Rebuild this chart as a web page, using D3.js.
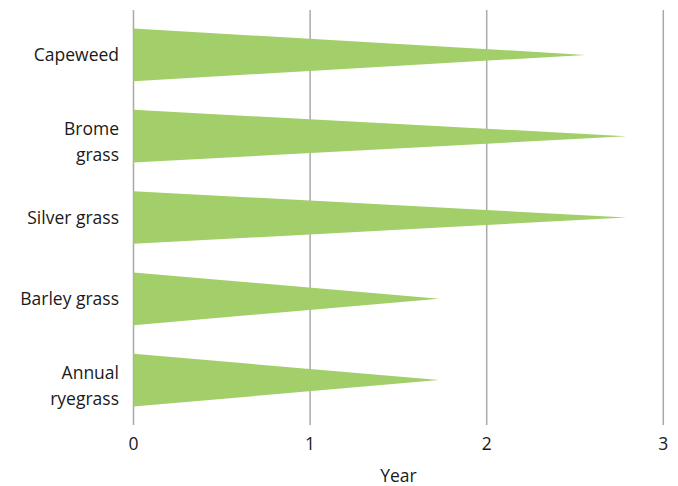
<!DOCTYPE html>
<html>
<head>
<meta charset="utf-8">
<script src="https://cdn.jsdelivr.net/npm/d3@7"></script>
<style>
  body { margin: 0; background: #fff; }
  svg text { font-family: "Open Sans", sans-serif; fill: #1a1a1a; }
</style>
</head>
<body>
<div id="chart"></div>
<script>
const categories = ['Capeweed', 'Brome grass', 'Silver grass', 'Barley grass', 'Annual ryegrass'];
const labelLines = [['Capeweed'], ['Brome', 'grass'], ['Silver grass'], ['Barley grass'], ['Annual', 'ryegrass']];
const years = [2.56, 2.79, 2.79, 1.73, 1.73];
const xTicks = [0, 1, 2, 3];

const width = 678, height = 486;
const margin = {top: 10, left: 133.5, right: 14.7, bottom: 61};
const fontSize = 17.5;

const svg = d3.select('#chart').append('svg')
  .attr('width', width)
  .attr('height', height);

const x = d3.scaleLinear()
  .domain([0, 3])
  .range([margin.left, width - margin.right]);

const y = d3.scaleBand()
  .domain(categories)
  .range([margin.top, height - margin.bottom])
  .paddingInner(0.352)
  .paddingOuter(0.228);

// vertical grid lines
svg.append('g')
  .selectAll('line')
  .data(xTicks)
  .enter().append('line')
    .attr('x1', d => x(d))
    .attr('x2', d => x(d))
    .attr('y1', margin.top)
    .attr('y2', height - margin.bottom)
    .attr('stroke', '#a9a9a9')
    .attr('stroke-width', 1.5);

// wedge bars
svg.append('g')
  .selectAll('path')
  .data(categories)
  .enter().append('path')
    .attr('fill', '#a2cf69')
    .attr('d', (d, i) => {
      let top = y(d), bot = y(d) + y.bandwidth(), mid = y(d) + y.bandwidth() / 2;
      return 'M' + x(0) + ',' + top + 'L' + x(years[i]) + ',' + mid + 'L' + x(0) + ',' + bot + 'Z';
    });

// category labels
const labels = svg.append('g')
  .selectAll('text')
  .data(categories)
  .enter().append('text')
    .attr('text-anchor', 'end')
    .attr('font-size', fontSize)
    .attr('x', 119)
    .attr('y', d => y(d) + y.bandwidth() / 2);

labels.each(function(d, i){
  let lines = labelLines[i];
  let t = d3.select(this);
  lines.forEach((line, j) => {
    let dy = lines.length === 1 ? 6.5 : (j === 0 ? -1.5 : 24.5);
    t.append('tspan')
      .attr('x', 119)
      .attr('y', y(d) + y.bandwidth() / 2 + dy)
      .text(line);
  });
});

// x tick labels
svg.append('g')
  .selectAll('text')
  .data(xTicks)
  .enter().append('text')
    .attr('text-anchor', 'middle')
    .attr('font-size', fontSize)
    .attr('x', d => x(d))
    .attr('y', 450)
    .text(d => d);

svg.append('text')
  .attr('text-anchor', 'middle')
  .attr('font-size', fontSize)
  .attr('x', (x(0) + x(3)) / 2)
  .attr('y', 482)
  .text('Year');
</script>
</body>
</html>
